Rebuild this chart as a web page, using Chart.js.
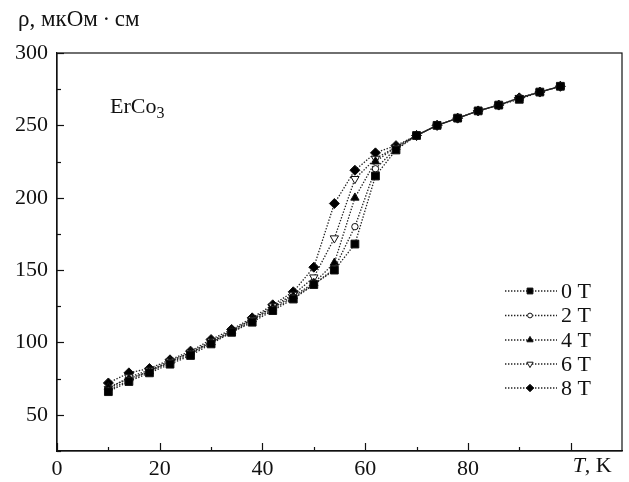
<!DOCTYPE html>
<html>
<head>
<meta charset="utf-8">
<script src="https://cdn.jsdelivr.net/npm/chart.js"></script>
<style>
  body { margin: 0; background: #fff; }
  #wrap { position: relative; width: 629px; height: 482px; }
</style>
</head>
<body>
<div id="wrap"><canvas id="rho_chart" width="629" height="482"></canvas></div>
<script>
// temperatures, K
var temps = [10, 14, 18, 22, 26, 30, 34, 38, 42, 46, 50, 54, 58, 62, 66, 70, 74, 78, 82, 86, 90, 94, 98];

// resistivity, uOhm*cm, one array per field
var rho0T = [66, 73, 79, 85, 91, 99, 107, 114, 122, 130, 140, 150, 168, 215, 233, 243, 250, 255, 260, 264, 268, 273, 277];
var rho2T = [67, 74, 80, 86, 92, 100, 107, 115, 123, 131, 140, 151, 180, 220, 234, 243, 250, 255, 260, 264, 269, 273, 277];
var rho4T = [69, 75, 80, 87, 93, 100, 108, 116, 124, 132, 141, 155, 200, 225, 235, 243, 250, 255, 260, 264, 269, 273, 277];
var rho6T = [68, 76, 81, 87, 93, 101, 108, 116, 125, 133, 145, 172, 213, 227, 235, 243, 250, 255, 260, 264, 269, 273, 277];
var rho8T = [72, 79, 82, 88, 94, 102, 109, 117, 126, 135, 152, 196, 219, 231, 236, 243, 250, 255, 260, 264, 269, 273, 277];

var fieldLabels = ['0 T', '2 T', '4 T', '6 T', '8 T'];
var xTickLabels = [0, 20, 40, 60, 80];

var serif = '"Liberation Serif", "DejaVu Serif", serif';

function toPoints(vals) {
  return temps.map(function(t, i) { return { x: t, y: vals[i] }; });
}

// marker look per series
var markers = [
  { style: 'rect', radius: 5.5, fill: '#000', rot: 0 },
  { style: 'circle', radius: 3.2, fill: '#fff', rot: 0 },
  { style: 'triangle', radius: 4.8, fill: '#000', rot: 0 },
  { style: 'triangle', radius: 4.8, fill: '#fff', rot: 180 },
  { style: 'rectRot', radius: 5, fill: '#000', rot: 0 }
];

function dataset(i, vals) {
  var m = markers[i];
  return {
    label: fieldLabels[i],
    data: toPoints(vals),
    borderColor: '#222',
    borderWidth: 1.3,
    borderDash: [1.4, 1.6],
    pointStyle: m.style,
    pointRadius: m.radius,
    pointRotation: m.rot,
    pointBackgroundColor: m.fill,
    pointBorderColor: '#111',
    pointBorderWidth: 1,
    tension: 0,
    fill: false
  };
}

// frame, inward ticks, extra texts and the legend
var decorations = {
  id: 'decorations',
  afterDraw: function(chart) {
    var ctx = chart.ctx;
    var a = chart.chartArea;
    var sx = chart.scales.x;
    var sy = chart.scales.y;
    ctx.save();
    ctx.strokeStyle = '#111';
    ctx.lineWidth = 1.2;
    ctx.setLineDash([]);
    ctx.strokeRect(a.left, a.top, a.right - a.left, a.bottom - a.top);

    for (var t = 0; t <= 100; t += 10) {
      var px = Math.round(sx.getPixelForValue(t)) + 0.5;
      var len = (t % 20 === 0) ? 8 : 4;
      ctx.beginPath();
      ctx.moveTo(px, a.bottom);
      ctx.lineTo(px, a.bottom - len);
      ctx.stroke();
    }
    for (var v = 25; v <= 300; v += 25) {
      var py = Math.round(sy.getPixelForValue(v)) + 0.5;
      var l = (v % 50 === 0) ? 7 : 4;
      ctx.beginPath();
      ctx.moveTo(a.left, py);
      ctx.lineTo(a.left + l, py);
      ctx.stroke();
    }

    ctx.fillStyle = '#111';
    ctx.textBaseline = 'alphabetic';
    ctx.textAlign = 'left';

    // axis names
    ctx.font = '23px ' + serif;
    ctx.fillText('\u03c1, \u043c\u043a\u041e\u043c\u2009\u00b7\u2009\u0441\u043c', 18, 26);

    var tx = sx.getPixelForValue(100) + 2;
    ctx.font = 'italic 22px ' + serif;
    ctx.fillText('T', tx, 472);
    var tw = ctx.measureText('T').width;
    ctx.font = '22px ' + serif;
    ctx.fillText(', K', tx + tw, 472);

    // compound name
    ctx.font = '22px ' + serif;
    ctx.fillText('ErCo', 110, 113);
    var ew = ctx.measureText('ErCo').width;
    ctx.font = '16px ' + serif;
    ctx.fillText('3', 110 + ew, 118);

    // legend
    var rows = [291, 315.5, 340, 364, 388];
    chart.data.datasets.forEach(function(ds, i) {
      var y = rows[i];
      ctx.strokeStyle = '#222';
      ctx.lineWidth = 1.3;
      ctx.setLineDash([1.4, 1.6]);
      ctx.beginPath();
      ctx.moveTo(505, y);
      ctx.lineTo(557, y);
      ctx.stroke();
      ctx.setLineDash([]);
      ctx.lineWidth = 1;
      ctx.fillStyle = ds.pointBackgroundColor;
      ctx.strokeStyle = '#111';
      Chart.helpers.drawPoint(ctx, {
        pointStyle: ds.pointStyle,
        rotation: ds.pointRotation,
        radius: ds.pointRadius * 0.75,
        borderWidth: 1
      }, 530, y);
      ctx.fillStyle = '#111';
      ctx.font = '22px ' + serif;
      ctx.textBaseline = 'middle';
      ctx.fillText(ds.label, 561, y + 1);
    });
    ctx.restore();
  }
};

var ctx = document.getElementById('rho_chart').getContext('2d');
new Chart(ctx, {
  type: 'line',
  data: {
    datasets: [
      dataset(0, rho0T),
      dataset(1, rho2T),
      dataset(2, rho4T),
      dataset(3, rho6T),
      dataset(4, rho8T)
    ]
  },
  options: {
    responsive: false,
    animation: false,
    devicePixelRatio: 1,
    layout: { padding: { top: 53, right: 7, left: 0, bottom: 0 } },
    plugins: {
      legend: { display: false },
      tooltip: { enabled: false }
    },
    scales: {
      x: {
        type: 'linear',
        min: 0,
        max: 110,
        grid: { display: false, drawTicks: false },
        border: { display: true, color: '#111', width: 1.2 },
        ticks: {
          stepSize: 10,
          padding: 5,
          maxRotation: 0,
          color: '#111',
          font: { family: serif, size: 22 },
          callback: function(v) { return xTickLabels.indexOf(v) >= 0 ? String(v) : ''; }
        },
        afterFit: function(scale) { scale.height = 31; }
      },
      y: {
        min: 25,
        max: 300,
        grid: { display: false, drawTicks: false },
        border: { display: true, color: '#111', width: 1.2 },
        ticks: {
          stepSize: 25,
          padding: 9,
          color: '#111',
          font: { family: serif, size: 22 },
          callback: function(v) { return v % 50 === 0 ? String(v) : ''; }
        },
        afterFit: function(scale) { scale.width = 57; }
      }
    }
  },
  plugins: [decorations]
});
</script>
</body>
</html>
